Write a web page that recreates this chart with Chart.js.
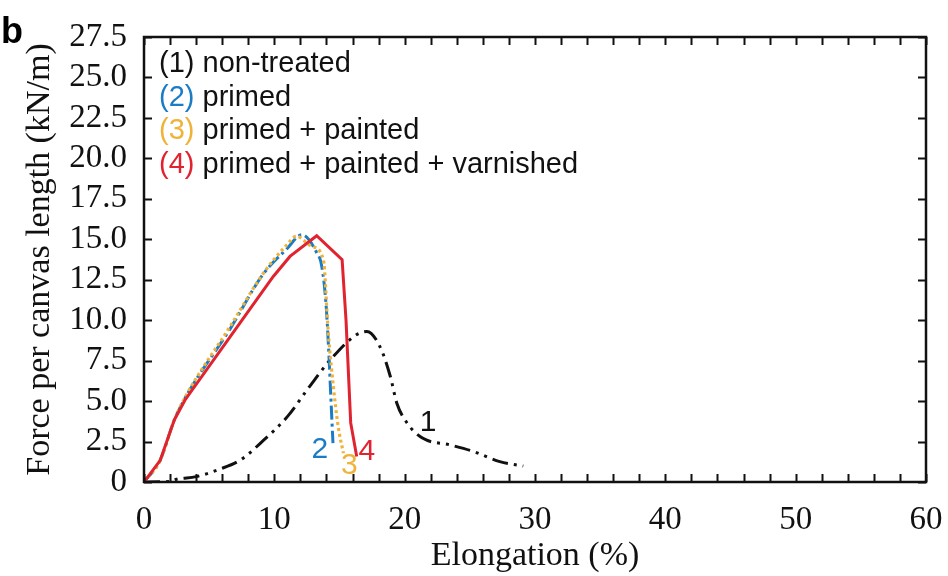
<!DOCTYPE html>
<html>
<head>
<meta charset="utf-8">
<script src="https://cdn.jsdelivr.net/npm/chart.js@4.4.1/dist/chart.umd.min.js"></script>
<style>
  html, body { margin: 0; padding: 0; background: #fff; }
  #wrap { position: relative; width: 948px; height: 576px; }
</style>
</head>
<body>
<div id="wrap"><canvas id="chart-tensile"></canvas></div>
<script>
// tensile test curves, force per canvas length vs elongation
const seriesNames = ['non-treated', 'primed', 'primed + painted', 'primed + painted + varnished'];
const seriesColors = ['#111111', '#1b7cc6', '#f0b33a', '#e1232f'];

const elong1 = [0, 2.0, 2.5, 4.0, 5.8, 7.4, 9.2, 11.0, 12.7, 14.3, 16.3, 17.1, 18.1, 18.9, 19.4, 20.2, 21.4, 23.5, 25.3, 27.3, 29.1];
const force1 = [0, 0.03, 0.17, 0.33, 0.79, 1.36, 2.6, 4.04, 5.9, 7.55, 9.1, 9.3, 8.37, 6.52, 4.87, 3.63, 2.7, 2.29, 1.88, 1.26, 0.99];

const elong2 = [0, 1.23, 2.33, 3.3, 6.6, 9.1, 10.95, 12.1, 13.25, 13.64, 14.0, 14.5];
const force2 = [0, 1.32, 3.84, 5.4, 9.45, 12.8, 14.4, 15.28, 14.17, 13.32, 10.6, 2.4];

const elong3 = [0, 1.23, 2.33, 3.2, 6.6, 9.16, 10.9, 11.7, 12.87, 13.76, 14.14, 14.53, 14.9, 15.3];
const force3 = [0, 1.32, 3.84, 5.3, 9.6, 12.9, 14.6, 15.18, 14.56, 13.74, 9.22, 5.9, 3.42, 1.78];

const elong4 = [0, 1.23, 2.33, 3.15, 7.37, 9.92, 11.2, 13.25, 15.2, 15.5, 15.86, 16.32];
const force4 = [0, 1.32, 3.84, 5.07, 9.84, 12.7, 13.94, 15.22, 13.74, 10.0, 3.65, 1.57];

// curve number tags placed next to the curve ends
const tagText = ['1', '2', '3', '4'];
const tagX = [21.8, 13.5, 15.75, 17.1];
const tagY = [3.65, 2.0, 1.0, 1.9];

const xMin = 0, xMax = 60, xStep = 10, xMinorStep = 2;
const yMin = 0, yMax = 27.5, yStep = 2.5;

function pts(xs, ys) {
  return xs.map((x, i) => ({ x: x, y: ys[i] }));
}

const serif = '"Liberation Serif", "Times New Roman", serif';
const sans = '"Liberation Sans", Arial, sans-serif';

// box frame with inward ticks on all four sides
const framePlugin = {
  id: 'frame',
  afterDatasetsDraw(chart) {
    const { ctx, chartArea: a, scales } = chart;
    const xs = scales.x, ys = scales.y;
    const len = 8;
    ctx.save();
    ctx.strokeStyle = '#111';
    ctx.lineWidth = 2;
    ctx.beginPath();
    for (let v = xMin; v <= xMax + 1e-9; v += xMinorStep) {
      const px = Math.round(xs.getPixelForValue(v)) + 0.5;
      ctx.moveTo(px, a.bottom); ctx.lineTo(px, a.bottom - len);
      ctx.moveTo(px, a.top); ctx.lineTo(px, a.top + len);
    }
    for (let v = yMin; v <= yMax + 1e-9; v += yStep) {
      const py = Math.round(ys.getPixelForValue(v)) + 0.5;
      ctx.moveTo(a.left, py); ctx.lineTo(a.left + len, py);
      ctx.moveTo(a.right, py); ctx.lineTo(a.right - len, py);
    }
    ctx.stroke();
    ctx.lineWidth = 2.5;
    ctx.strokeRect(a.left, a.top, a.right - a.left, a.bottom - a.top);
    ctx.restore();
  }
};

// legend block with coloured numbers, curve tags and panel letter
const labelPlugin = {
  id: 'labels',
  afterDraw(chart) {
    const { ctx, scales } = chart;
    ctx.save();
    ctx.font = '29px ' + sans;
    ctx.textBaseline = 'middle';
    ctx.textAlign = 'left';
    const lx = 159, ly0 = 64, lstep = 33.7;
    seriesNames.forEach((name, i) => {
      const num = '(' + (i + 1) + ')';
      const y = ly0 + i * lstep;
      ctx.fillStyle = seriesColors[i];
      ctx.fillText(num, lx, y);
      const w = ctx.measureText(num + ' ').width;
      ctx.fillStyle = '#111';
      ctx.fillText(name, lx + w, y);
    });

    ctx.font = '30px ' + sans;
    ctx.textAlign = 'center';
    tagText.forEach((t, i) => {
      ctx.fillStyle = seriesColors[i];
      ctx.fillText(t, scales.x.getPixelForValue(tagX[i]), scales.y.getPixelForValue(tagY[i]));
    });

    ctx.fillStyle = '#000';
    ctx.textAlign = 'left';
    ctx.font = 'bold 36px ' + sans;
    ctx.fillText('b', 1, 33);
    ctx.restore();
  }
};

const ctxT = document.getElementById('chart-tensile');
new Chart(ctxT, {
  type: 'scatter',
  data: {
    datasets: [
      {
        label: seriesNames[0],
        data: pts(elong1, force1),
        borderColor: seriesColors[0],
        borderWidth: 3,
        borderDash: [16, 6, 3, 6, 3, 6],
        cubicInterpolationMode: 'monotone',
        order: 4
      },
      {
        label: seriesNames[1],
        data: pts(elong2, force2),
        borderColor: seriesColors[1],
        borderWidth: 3,
        borderDash: [14, 4, 3, 4],
        cubicInterpolationMode: 'monotone',
        order: 3
      },
      {
        label: seriesNames[2],
        data: pts(elong3, force3),
        borderColor: seriesColors[2],
        borderWidth: 3.2,
        borderDash: [3, 3],
        cubicInterpolationMode: 'monotone',
        order: 2
      },
      {
        label: seriesNames[3],
        data: pts(elong4, force4),
        borderColor: seriesColors[3],
        borderWidth: 3,
        tension: 0,
        order: 1
      }
    ].map(d => Object.assign({ showLine: true, pointRadius: 0, fill: false }, d))
  },
  options: {
    responsive: true,
    maintainAspectRatio: false,
    animation: false,
    layout: { padding: { top: 37, right: 22, left: 0, bottom: 0 } },
    plugins: {
      legend: { display: false },
      tooltip: { enabled: false }
    },
    scales: {
      x: {
        type: 'linear',
        min: xMin,
        max: xMax,
        afterFit(s) {
          s.height = 94;
          s.paddingLeft = 0;
          s.paddingRight = 0;
        },
        grid: { display: false, drawTicks: false },
        border: { display: false },
        ticks: {
          stepSize: xStep,
          padding: 19,
          color: '#111',
          autoSkip: false,
          font: { family: serif, size: 33 },
          maxRotation: 0
        },
        title: {
          display: true,
          text: 'Elongation (%)',
          color: '#111',
          font: { family: serif, size: 34 },
          padding: { top: 0, bottom: 0 }
        }
      },
      y: {
        type: 'linear',
        min: yMin,
        max: yMax,
        afterFit(s) {
          s.width = 144;
          s.paddingTop = 0;
          s.paddingBottom = 0;
        },
        grid: { display: false, drawTicks: false },
        border: { display: false },
        ticks: {
          stepSize: yStep,
          padding: 17,
          color: '#111',
          autoSkip: false,
          font: { family: serif, size: 33 },
          callback: v => (v === 0 ? '0' : v.toFixed(1))
        },
        title: {
          display: true,
          text: 'Force per canvas length (kN/m)',
          color: '#111',
          font: { family: serif, size: 34 },
          padding: { top: 20, bottom: 0 }
        }
      }
    }
  },
  plugins: [framePlugin, labelPlugin]
});
</script>
</body>
</html>
